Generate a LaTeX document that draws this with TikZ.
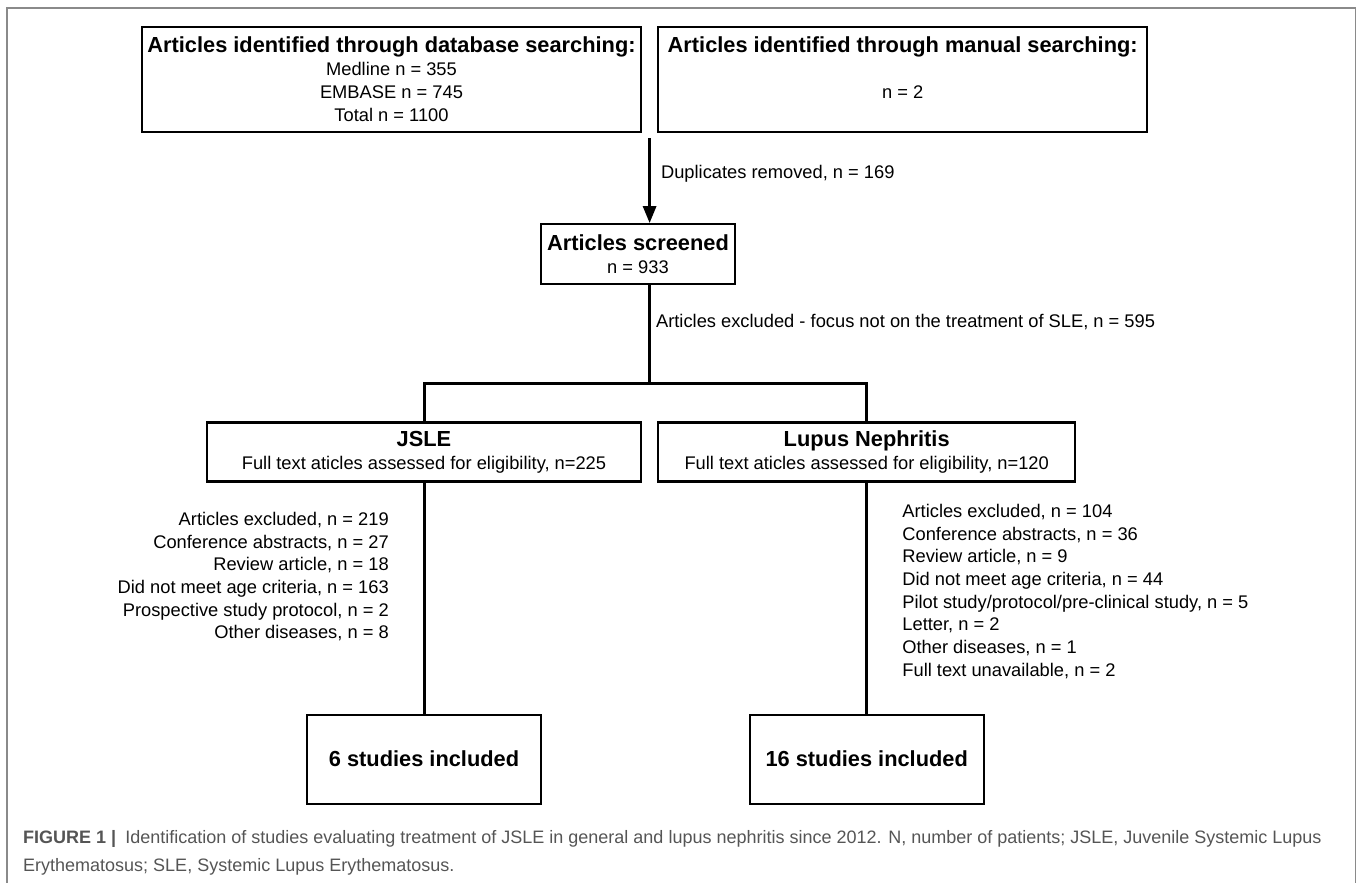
\documentclass[tikz,border=0pt]{standalone}
\usepackage{fontspec}
\setmainfont{Liberation Sans}
\usetikzlibrary{arrows.meta,positioning}
\definecolor{frameline}{HTML}{8A8A8A}
\definecolor{captext}{HTML}{555555}
\newcommand{\headfont}{\fontsize{21.8}{23}\selectfont\bfseries}
\newcommand{\bodyfont}{\fontsize{18.3}{23}\selectfont}

\begin{document}
\begin{tikzpicture}[
  x=1pt, y=-1pt,
  font=\bodyfont,
  box/.style={draw, line width=2.2pt, inner sep=0pt, align=center},
  note/.style={inner sep=0pt},
  list/.style={inner sep=0pt, font=\fontsize{18.3}{22.7}\selectfont},
  conn/.style={line width=3pt},
  arr/.style={-{Triangle[length=17pt,width=13pt]}, line width=3pt},
]
\useasboundingbox (0,0) rectangle (1358,883);
\draw[frameline, line width=1.3pt] (7,883) |- (1355.5,8) -- (1355.5,883);
\node[box, minimum width=499pt, minimum height=105pt] (db) at (391.5,79.5) {{\headfont Articles identified through database searching:}\\ Medline n = 355\\ EMBASE n = 745\\ Total n = 1100};
\node[box, minimum width=489pt, minimum height=105pt, right=15pt of db] (man) {{\headfont Articles identified through manual searching:}\\ \mbox{}\\ n = 2\\ \mbox{}};
\node[box, minimum width=194pt, minimum height=60pt, below=90pt of db, xshift=246.5pt] (scr) {{\headfont Articles screened}\\ n = 933};
\node[box, minimum width=434pt, minimum height=59pt, below=136pt of scr, xshift=-214pt] (jsle) {{\headfont JSLE}\\ Full text aticles assessed for eligibility, n=225};
\node[box, minimum width=417pt, minimum height=59pt, right=15pt of jsle] (ln) {{\headfont Lupus Nephritis}\\ Full text aticles assessed for eligibility, n=120};
\node[box, minimum width=234pt, minimum height=89pt, below=231pt of jsle] (jinc) {\headfont 6 studies included};
\node[box, minimum width=234pt, minimum height=89pt, below=231pt of ln] (linc) {\headfont 16 studies included};
\node[list, align=right, below left=29.4pt and 35pt of jsle.south] (jexc) {Articles excluded, n = 219\\ Conference abstracts, n = 27\\ Review article, n = 18\\ Did not meet age criteria, n = 163\\ Prospective study protocol, n = 2\\ Other diseases, n = 8};
\node[list, align=left, below right=21.4pt and 35.5pt of ln.south] (lexc) {Articles excluded, n = 104\\ Conference abstracts, n = 36\\ Review article, n = 9\\ Did not meet age criteria, n = 44\\ Pilot study/protocol/pre-clinical study, n = 5\\ Letter, n = 2\\ Other diseases, n = 1\\ Full text unavailable, n = 2};
\coordinate[below=5pt of db.south east, xshift=7.5pt] (join);
\coordinate[above=38pt of jsle.north] (jfork);
\coordinate[above=38pt of ln.north] (lfork);
\draw[arr] (join) -- (join |- scr.north) node[note, pos=0.42, right=10pt] (dup) {Duplicates removed, n = 169};
\draw[conn] (join |- scr.south) -- (join |- jfork) node[note, pos=0.378, right=5pt] (excl) {Articles excluded - focus not on the treatment of SLE, n = 595};
\draw[conn] (jsle.north) -- (jfork) -- (lfork) -- (ln.north);
\draw[conn] (jsle) -- (jinc);
\draw[conn] (ln) -- (linc);
\node[anchor=north west, inner sep=0pt, align=left, text=captext, font=\fontsize{18}{28}\selectfont] (cap) at (23,830) {\textbf{FIGURE 1 |}\enspace Identification of studies evaluating treatment of JSLE in general and lupus nephritis since 2012. N, number of patients; JSLE, Juvenile Systemic Lupus\\ Erythematosus; SLE, Systemic Lupus Erythematosus.};
\end{tikzpicture}
\end{document}
